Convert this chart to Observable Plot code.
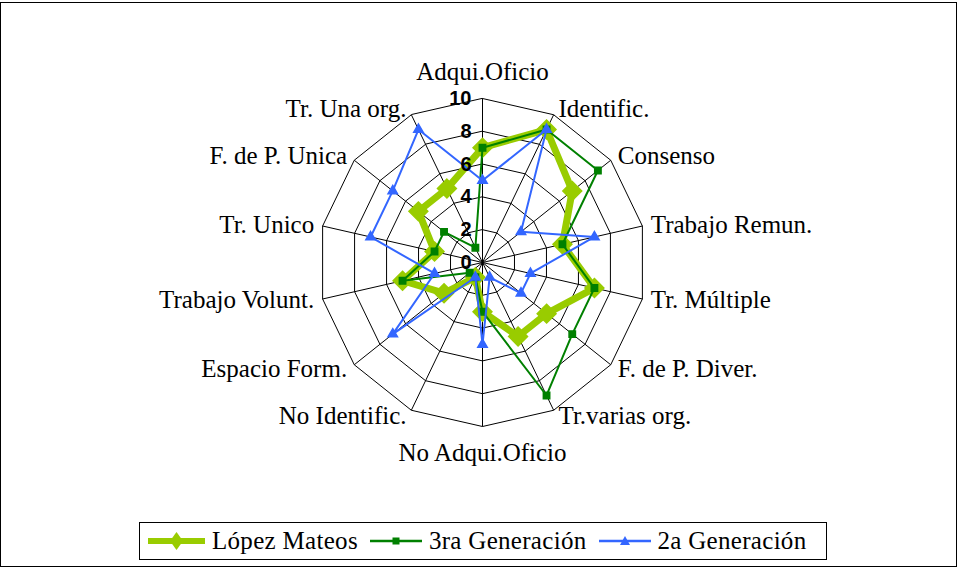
<!DOCTYPE html>
<html><head><meta charset="utf-8">
<script src="https://cdn.jsdelivr.net/npm/d3@7"></script>
<script src="https://cdn.jsdelivr.net/npm/@observablehq/plot@0.6"></script>
<style>
body{margin:0;background:#fff;width:959px;height:570px;overflow:hidden;position:relative;}
#frame{position:absolute;left:0;top:2px;width:955px;height:563px;border:1.5px solid #000;}
#chart{position:absolute;left:0;top:0;}
#legend{position:absolute;left:139px;top:522px;width:688px;height:38px;border:1px solid #000;background:#fff;display:flex;align-items:center;justify-content:flex-start;padding-left:8px;box-sizing:border-box;font-family:"Liberation Serif",serif;font-size:25px;color:#000;}
.item{display:flex;align-items:center;margin-right:12px;}
.item svg{margin-right:7px;}
.item span{letter-spacing:0.3px;}
</style></head><body>
<div id="frame"></div><div id="chart"></div><div id="legend"></div>
<script>
const categories = ["Adqui.Oficio","Identific.","Consenso","Trabajo Remun.","Tr. Múltiple","F. de P. Diver.","Tr.varias org.","No Adqui.Oficio","No Identific.","Espacio Form.","Trabajo Volunt.","Tr. Unico","F. de P. Unica","Tr. Una org."];
const lopezMateos = [7,9,7,5,7,5,5,3,1,3,5,3,5,5];
const terceraGen  = [7,9,9,5,7,7,9,3,1,1,5,3,3,1];
const segundaGen  = [5,9,3,7,3,3,1,5,1,7,3,7,7,9];
const tickValues = [0,2,4,6,8,10];
const seriesNames = ["López Mateos","3ra Generación","2a Generación"];

const N = categories.length;
const ang = i => i * 2 * Math.PI / N;
const px = (v,i) => v * Math.sin(ang(i));
const py = (v,i) => v * Math.cos(ang(i));
const maxV = 10;

const cx = 482, cy = 262, unit = 16.4, W = 959, H = 520;

const rings = [];
for (const lv of tickValues.slice(1)) categories.forEach((c,i) => rings.push({level: lv, x: px(lv,i), y: py(lv,i)}));
const spokes = categories.map((c,i) => ({x2: px(maxV,i), y2: py(maxV,i)}));

function pts(vals){ return vals.map((v,i)=>({x:px(v,i), y:py(v,i)})); }
const lm = pts(lopezMateos), tg = pts(terceraGen), sg = pts(segundaGen);

const labels = categories.map((c,i)=>{
  const s = Math.sin(ang(i));
  const side = Math.abs(s) < 0.01 ? "mid" : (s > 0 ? "right" : "left");
  const r = side === "mid" ? 11.6 : 10.4;
  return {label: c, side, x: px(r,i), y: py(r,i)};
});

const chart = Plot.plot({
  width: W, height: H, margin: 0,
  x: {domain: [-cx/unit, (W-cx)/unit], axis: null},
  y: {domain: [-(H-cy)/unit, cy/unit], axis: null},
  style: {fontFamily: "Liberation Serif", background: "transparent"},
  marks: [
    Plot.line(rings, {x: "x", y: "y", z: "level", curve: "linear-closed", stroke: "#000", strokeWidth: 1}),
    Plot.link(spokes, {x1: 0, y1: 0, x2: "x2", y2: "y2", stroke: "#000", strokeWidth: 1}),
    Plot.text(labels.filter(d=>d.side==="mid"), {x:"x", y:"y", text:"label", textAnchor:"middle", fontSize: 25, fill:"#000"}),
    Plot.text(labels.filter(d=>d.side==="right"), {x:"x", y:"y", text:"label", textAnchor:"start", dx: 2, fontSize: 25, fill:"#000"}),
    Plot.text(labels.filter(d=>d.side==="left"), {x:"x", y:"y", text:"label", textAnchor:"end", dx: -2, fontSize: 25, fill:"#000"}),
    Plot.line(lm, {x:"x", y:"y", curve:"linear-closed", stroke:"#99CC00", strokeWidth: 7, strokeLinejoin:"round"}),
    Plot.dot(lm, {x:"x", y:"y", symbol:"diamond2", r: 8.5, fill:"#99CC00", stroke:"#99CC00", strokeWidth: 1.5}),
    Plot.line(tg, {x:"x", y:"y", curve:"linear-closed", stroke:"#008000", strokeWidth: 2}),
    Plot.dot(tg, {x:"x", y:"y", symbol:"square", r: 3.6, fill:"#008000", stroke:"#008000"}),
    Plot.line(sg, {x:"x", y:"y", curve:"linear-closed", stroke:"#3366FF", strokeWidth: 2}),
    Plot.dot(sg, {x:"x", y:"y", symbol:"triangle2", r: 4.5, fill:"#3366FF", stroke:"#3366FF"}),
    Plot.text(tickValues, {x: 0, y: d => d, text: d => String(d), textAnchor: "end", dx: -11, fontWeight: "bold", fontSize: 20, fontFamily: "Liberation Sans", fill: "#000"})
  ]
});
document.getElementById("chart").appendChild(chart);

const legendSpec = [
  {name: seriesNames[0], color:"#99CC00", width:6, sym:"diamond"},
  {name: seriesNames[1], color:"#008000", width:2.5, sym:"square"},
  {name: seriesNames[2], color:"#3366FF", width:2.5, sym:"triangle"}
];
const leg = document.getElementById("legend");
for (const s of legendSpec){
  const it = document.createElement("div"); it.className = "item";
  let marker = "", w = 52;
  if (s.sym==="diamond") { w = 57; marker = `<path d="M28.5,3 L35,12 L28.5,21 L22,12 Z" fill="${s.color}"/>`; }
  if (s.sym==="square") marker = `<rect x="22.5" y="8.5" width="7" height="7" fill="${s.color}"/>`;
  if (s.sym==="triangle") marker = `<path d="M26,7 L31,16 L21,16 Z" fill="${s.color}"/>`;
  it.innerHTML = `<svg width="${w}" height="24"><line x1="0" x2="${w}" y1="12" y2="12" stroke="${s.color}" stroke-width="${s.width}"/>${marker}</svg><span>${s.name}</span>`;
  leg.appendChild(it);
}
</script>
</body></html>
